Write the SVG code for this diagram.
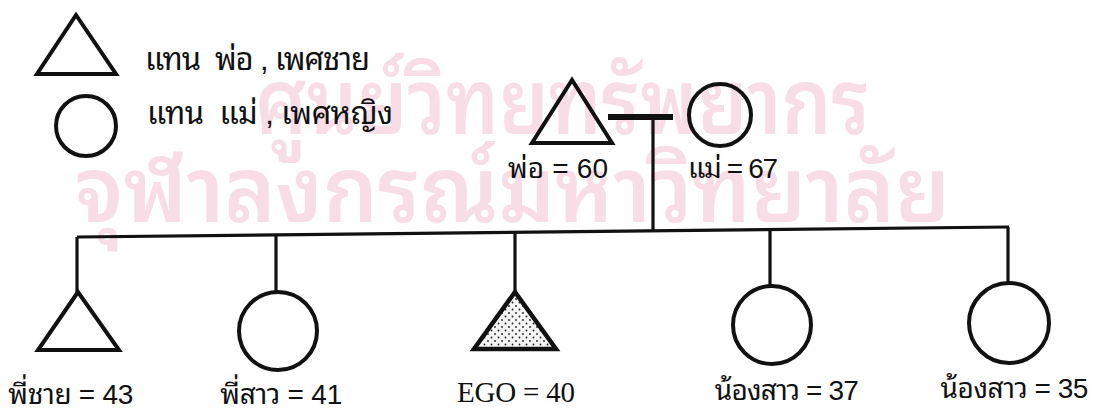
<svg xmlns="http://www.w3.org/2000/svg" width="1097" height="410" viewBox="0 0 1097 410">
<style>
.bg{fill:#ffffff}
.wm{font-family:"Noto Sans Thai Looped","Noto Serif Thai","Noto Sans Thai","Loma",sans-serif;font-size:90px;font-weight:600;fill:#f8dde7}
.shape{fill:none;stroke:#111111;stroke-width:4;stroke-linejoin:miter}
.ego{fill:url(#dots);stroke:#111111;stroke-width:4.5;stroke-linejoin:miter}
.line{fill:none;stroke:#111111;stroke-width:3.2}
.marr{fill:none;stroke:#111111;stroke-width:6}
.lbl{font-family:"Liberation Sans","Noto Sans Thai Looped","Noto Sans Thai","Loma",sans-serif;font-size:28px;fill:#111111;white-space:pre}
.leg{font-family:"Liberation Sans","Noto Sans Thai Looped","Noto Sans Thai","Loma",sans-serif;font-size:31px;fill:#111111;white-space:pre}
.serif{font-family:"Liberation Serif",serif;font-size:29px;fill:#111111}
</style>
<defs>
<pattern id="dots" width="7" height="7" patternUnits="userSpaceOnUse">
<rect width="7" height="7" fill="#f4f4f4"/>
<circle cx="1.5" cy="1.5" r="0.9" fill="#222"/>
<circle cx="5" cy="5" r="0.9" fill="#222"/>
</pattern>
</defs>
<rect class="bg" x="0" y="0" width="1097" height="410"/>
<g id="watermark">
<text class="wm" x="255" y="134" textLength="615" lengthAdjust="spacingAndGlyphs">ศูนย์วิทยทรัพยากร</text>
<text class="wm" x="75" y="222" textLength="875" lengthAdjust="spacingAndGlyphs">จุฬาลงกรณ์มหาวิทยาลัย</text>
</g>
<g id="legend">
<polygon class="shape" points="76,15 37,74 116,74"/>
<text class="leg" x="145" y="70" textLength="225" lengthAdjust="spacing">แทน  พ่อ , เพศชาย</text>
<circle class="shape" cx="86" cy="126" r="30"/>
<text class="leg" x="147" y="124" textLength="246" lengthAdjust="spacing">แทน  แม่ , เพศหญิง</text>
</g>
<g id="connectors">
<line class="marr" x1="608" y1="117" x2="673" y2="117"/>
<line class="line" x1="653" y1="119" x2="653" y2="232"/>
<line class="line" x1="77" y1="237" x2="1009" y2="227"/>
<line class="line" x1="77" y1="237" x2="77" y2="292"/>
<line class="line" x1="276" y1="235" x2="276" y2="292"/>
<line class="line" x1="515" y1="233" x2="515" y2="292"/>
<line class="line" x1="770" y1="230" x2="770" y2="286"/>
<line class="line" x1="1008" y1="227" x2="1008" y2="283"/>
</g>
<g id="father">
<polygon class="shape" points="572,80 532,143 612,143"/>
<text class="lbl" x="508" y="178" textLength="100" lengthAdjust="spacing">พ่อ = 60</text>
</g>
<g id="mother">
<circle class="shape" cx="720" cy="115" r="31"/>
<text class="lbl" x="688" y="178" textLength="90" lengthAdjust="spacing">แม่ = 67</text>
</g>
<g id="elder-brother">
<polygon class="shape" points="78,292 38,350 119,350"/>
<text class="lbl" x="8" y="404" textLength="125" lengthAdjust="spacing">พี่ชาย = 43</text>
</g>
<g id="elder-sister">
<circle class="shape" cx="278" cy="331" r="39"/>
<text class="lbl" x="220" y="404" textLength="122" lengthAdjust="spacing">พี่สาว = 41</text>
</g>
<g id="ego">
<polygon class="ego" points="515,292 474,349 556,349"/>
<text class="serif" x="457" y="402" textLength="118" lengthAdjust="spacing">EGO = 40</text>
</g>
<g id="younger-sister-1">
<circle class="shape" cx="772" cy="325" r="39"/>
<text class="lbl" x="714" y="400" textLength="144" lengthAdjust="spacing">น้องสาว = 37</text>
</g>
<g id="younger-sister-2">
<circle class="shape" cx="1009" cy="323" r="40"/>
<text class="lbl" x="940" y="398" textLength="148" lengthAdjust="spacing">น้องสาว = 35</text>
</g>
</svg>
